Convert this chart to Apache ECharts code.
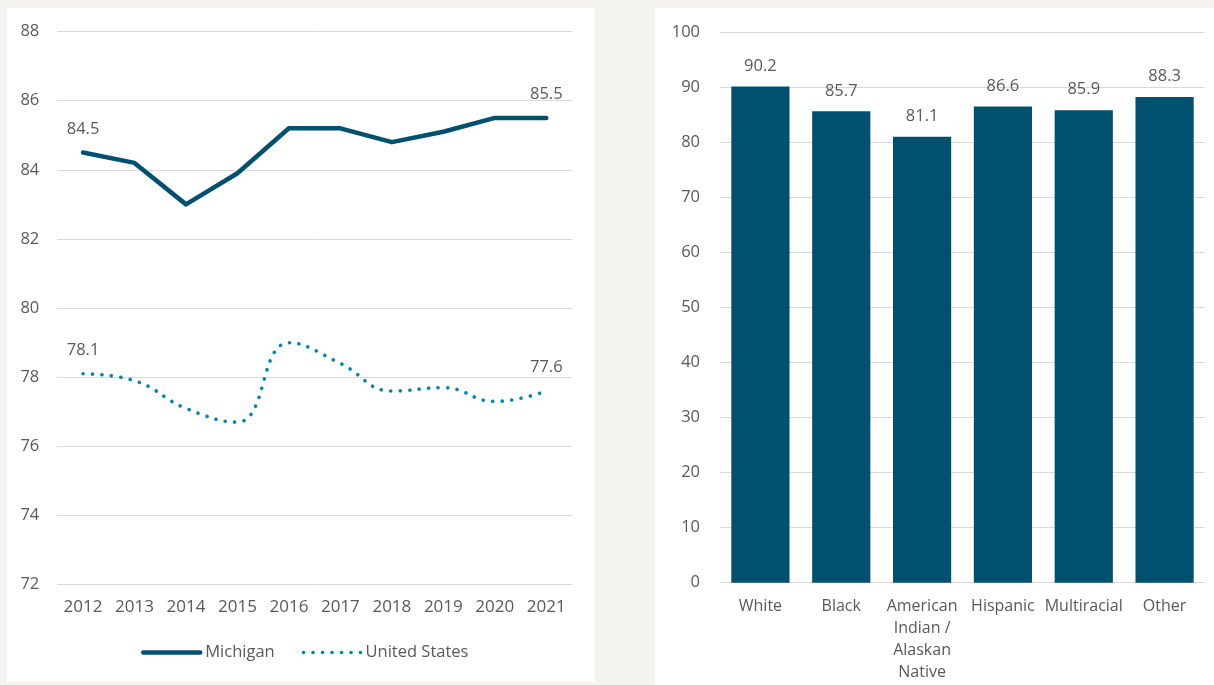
<!DOCTYPE html>
<html>
<head>
<meta charset="utf-8">
<script src="https://cdn.jsdelivr.net/npm/echarts@6/dist/echarts.min.js"></script>
<style>
  html, body { margin: 0; padding: 0; background: #f4f3ef; width: 1214px; height: 685px; overflow: hidden; }
  #left { position: absolute; left: 7px; top: 8px; width: 588px; height: 674px; background: #ffffff; }
  #right { position: absolute; left: 655px; top: 8px; width: 559px; height: 677px; background: #ffffff; }
</style>
</head>
<body>
<div id="left"></div>
<div id="right"></div>
<script>
// ---- Data ----
const years = ['2012','2013','2014','2015','2016','2017','2018','2019','2020','2021'];
const michigan = [84.5, 84.2, 83.0, 83.9, 85.2, 85.2, 84.8, 85.1, 85.5, 85.5];
const unitedStates = [78.1, 77.9, 77.1, 76.7, 79.0, 78.4, 77.6, 77.7, 77.3, 77.6];

const groups = ['White', 'Black', 'American\nIndian /\nAlaskan\nNative', 'Hispanic', 'Multiracial', 'Other'];
const groupValues = [90.2, 85.7, 81.1, 86.6, 85.9, 88.3];

// ---- Styles ----
const FONT = '"Open Sans", sans-serif';
const TXT = '#595959';
const GRID = '#d9d9d9';
const DARK = '#00506f';
const LIGHT = '#0086b1';
const FS = 16.5;

const michiganLine = { color: DARK, width: 4.5, cap: 'round', join: 'round' };
const usLine = { color: LIGHT, width: 3.6, type: [0.1, 9.4], cap: 'round' };

function endLabel(p) {
  const last = years.length - 1;
  return (p.dataIndex === 0 || p.dataIndex === last) ? p.value.toFixed(1) : '';
}

const left = echarts.init(document.getElementById('left'));
left.setOption({
  animation: false,
  textStyle: { fontFamily: FONT },
  grid: { left: 50.3, right: 23, top: 23.5, bottom: 97.3 },
  legend: {
    left: 129, top: 631,
    itemWidth: 57, itemHeight: 14, itemGap: 27,
    itemStyle: { opacity: 0 },
    textStyle: { color: TXT, fontSize: FS, fontFamily: FONT },
    data: [
      { name: 'Michigan', lineStyle: michiganLine },
      { name: 'United States', lineStyle: usLine }
    ]
  },
  xAxis: {
    type: 'category', data: years, boundaryGap: true,
    axisLine: { show: false }, axisTick: { show: false },
    axisLabel: { color: TXT, fontSize: 17, fontFamily: FONT, margin: 14 }
  },
  yAxis: {
    type: 'value', min: 72, max: 88, interval: 2,
    axisLine: { show: false }, axisTick: { show: false },
    axisLabel: { color: TXT, fontSize: FS, fontFamily: FONT, margin: 18 },
    splitLine: { lineStyle: { color: GRID, width: 1 } }
  },
  series: [
    {
      name: 'Michigan', type: 'line', data: michigan,
      symbol: 'circle', symbolSize: 0, showSymbol: true,
      lineStyle: michiganLine,
      itemStyle: { color: DARK },
      label: { show: true, position: 'top', distance: 15, color: TXT, fontSize: FS, fontFamily: FONT, formatter: endLabel }
    },
    {
      name: 'United States', type: 'line', data: unitedStates, smooth: 0.45,
      symbol: 'circle', symbolSize: 0, showSymbol: true,
      lineStyle: usLine,
      itemStyle: { color: LIGHT },
      label: { show: true, position: 'top', distance: 15, color: TXT, fontSize: FS, fontFamily: FONT, formatter: endLabel }
    }
  ]
});

const right = echarts.init(document.getElementById('right'));
right.setOption({
  animation: false,
  textStyle: { fontFamily: FONT },
  grid: { left: 65, right: 9, top: 24.7, bottom: 102.3 },
  xAxis: {
    type: 'category', data: groups,
    axisLine: { show: false }, axisTick: { show: false },
    axisLabel: { color: TXT, fontSize: 16, fontFamily: FONT, margin: 13, lineHeight: 22, interval: 0, verticalAlign: 'top' }
  },
  yAxis: {
    type: 'value', min: 0, max: 100, interval: 10,
    axisLine: { show: false }, axisTick: { show: false },
    axisLabel: { color: TXT, fontSize: FS, fontFamily: FONT, margin: 20 },
    splitLine: { lineStyle: { color: GRID, width: 1 } }
  },
  series: [{
    type: 'bar', data: groupValues, barCategoryGap: '28%',
    itemStyle: { color: DARK },
    label: { show: true, position: 'top', distance: 12, color: TXT, fontSize: FS, fontFamily: FONT, formatter: p => p.value.toFixed(1) }
  }]
});
</script>
</body>
</html>
